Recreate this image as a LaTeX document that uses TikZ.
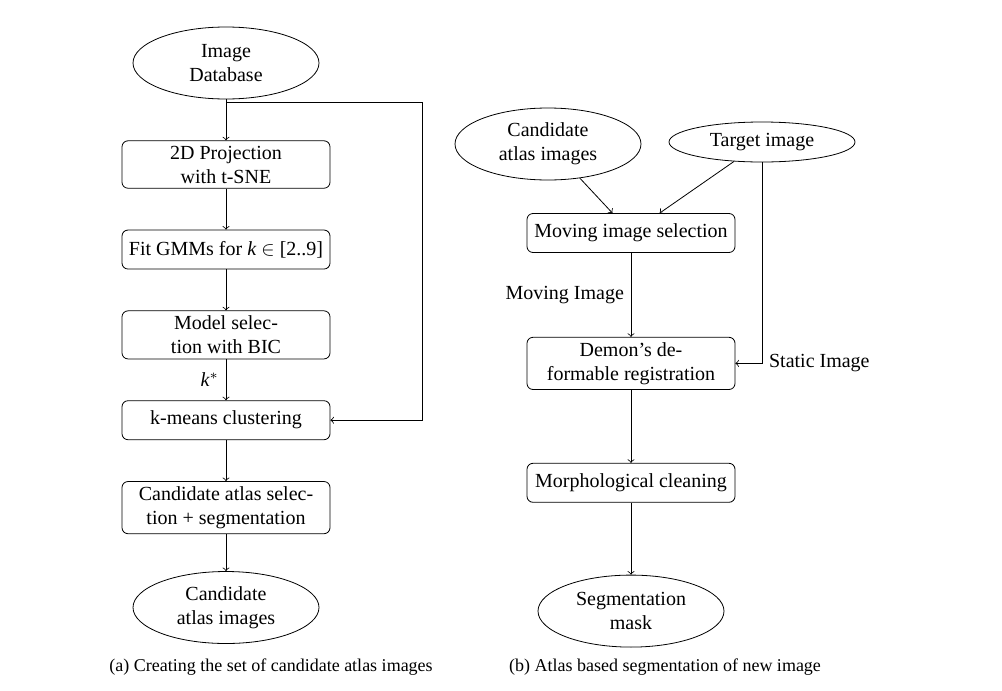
\documentclass[tikz,border=0pt]{standalone}
\usepackage{fontspec}
\setmainfont{Liberation Serif}
\usepackage{tikz}
\usetikzlibrary{positioning, shapes.geometric}

\begin{document}
\begin{tikzpicture}
        [
            stepbox/.style={rectangle, draw, rounded corners=3pt, align=center,
                            minimum width=104pt, minimum height=19.5pt,
                            inner xsep=2pt, inner ysep=2.5pt},
            blob/.style={ellipse, draw, align=center, minimum width=93pt,
                         minimum height=36pt, inner sep=1pt},
            caption/.style={font=\small}
        ]
        \useasboundingbox (0pt,0pt) rectangle (501pt,-345.5pt);
        % (a) creating the candidate atlas set
        \node (db) [blob] at (113pt,-31.5pt) {Image\\Database};
        \node (tsne) [stepbox, below=20.5pt of db] {2D Projection\\with t-SNE};
        \node (gmm) [stepbox, below=20.5pt of tsne] {Fit GMMs for \textit{k} $\in$ [2..9]};
        \node (bic) [stepbox, below=20.5pt of gmm] {Model selec-\\tion with BIC};
        \node (kmeans) [stepbox, below=20.5pt of bic] {k-means clustering};
        \node (atlsel) [stepbox, below=20.5pt of kmeans] {Candidate atlas selec-\\tion + segmentation};
        \node (cands) [blob, below=18.5pt of atlsel] {Candidate\\atlas images};
        \foreach \i/\j in {db/tsne, tsne/gmm, gmm/bic, kmeans/atlsel, atlsel/cands}
            \draw [->] (\i) -- (\j);
        \draw [->] (bic) -- node[left] {\textit{k}$^*$} (kmeans);
        \coordinate (fb) at (211pt,-51pt);
        \draw [->] (db.south) |- (fb) |- (kmeans.east);
        \node (capa) [caption] at (135.5pt,-333.5pt) {(a) Creating the set of candidate atlas images};
        % (b) atlas based segmentation
        \node (atlas) [blob] at (274pt,-72pt) {Candidate\\atlas images};
        \node (target) [blob, minimum height=20pt] at (381pt,-71pt) {Target image};
        \node (movsel) [stepbox] at (315.5pt,-116.5pt) {Moving image selection};
        \node (demon) [stepbox, below=42pt of movsel] {Demon's de-\\formable registration};
        \node (morph) [stepbox, below=36.5pt of demon] {Morphological cleaning};
        \node (mask) [blob, below=36pt of morph] {Segmentation\\mask};
        \foreach \i/\j in {atlas/movsel, target/movsel, demon/morph, morph/mask}
            \draw [->] (\i) -- (\j);
        \draw [->] (movsel) -- node[left] {Moving Image} (demon);
        \draw [->] (target.south) |- node[right] {Static Image} (demon.east);
        \node (capb) [caption] at (332.5pt,-333.5pt) {(b) Atlas based segmentation of new image};
\end{tikzpicture}
\end{document}
